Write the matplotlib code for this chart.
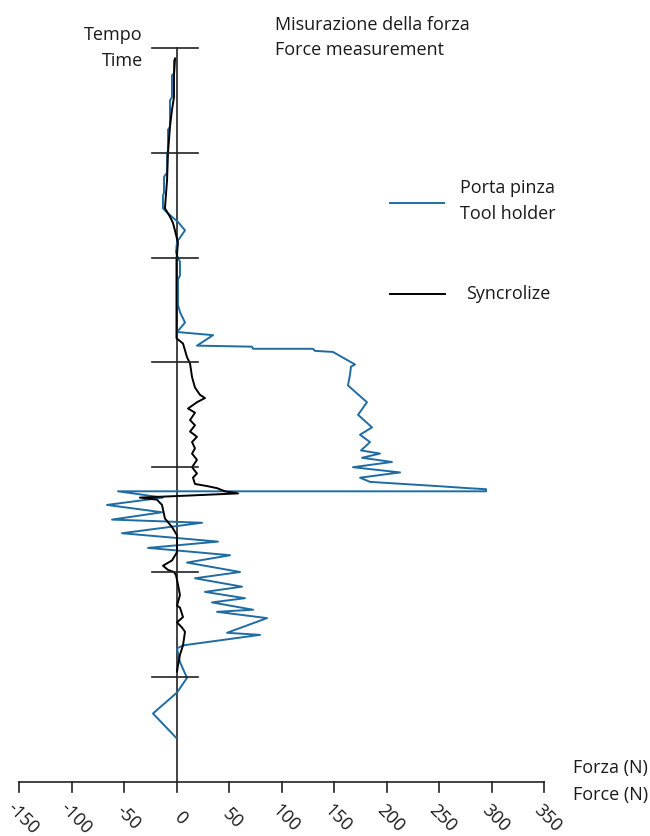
import numpy as np
import matplotlib
matplotlib.use("Agg")
import matplotlib.pyplot as plt

plt.rcParams['font.family'] = ['Open Sans', 'DejaVu Sans']

# force axis ticks (N)
force_ticks = [-150, -100, -50, 0, 50, 100, 150, 200, 250, 300, 350]
# time ticks (arbitrary units, top to bottom)
time_ticks = [0, 1, 2, 3, 4, 5, 6]
time_axis_end = 7

# Porta pinza / Tool holder  (force N, time)
holder_force = [-2.4, -2.4, -4.3, -4.3, -6.2, -6.2, -8.1, -8.1, -9.0, -9.0,
                -11.9, -11.9, -12.9, -12.9, -9.0, 1.4, 8.1, 0.5, -0.5, 1.4,
                3.3, 3.3, 1.4, 1.4, 3.3, 6.2, 8.1, 0.5, 34.8, 19.5,
                71.9, 72.9, 130.0, 131.9, 149.0, 170.0, 166.2, 165.2, 163.3, 181.4,
                172.9, 186.2, 174.8, 184.3, 175.7, 193.8, 176.7, 205.2, 168.1, 212.9,
                174.8, 184.3, 248.1, 277.6, 294.8, 294.8, -55.7, -12.9, -66.2, -13.8,
                -61.4, 24.3, -51.9, 39.5, -27.1, 51.0, 10.0, 60.5, 17.6, 62.4,
                27.1, 65.2, 33.8, 72.9, 38.6, 86.2, 48.1, 79.5, 6.2, 0.5,
                3.3, 10.0, 0.5, -22.4, -0.5]
holder_time = [0.12, 0.24, 0.26, 0.47, 0.50, 0.75, 0.78, 0.97, 1.02, 1.19,
               1.23, 1.38, 1.41, 1.53, 1.57, 1.66, 1.74, 1.85, 1.95, 2.00,
               2.04, 2.17, 2.21, 2.45, 2.52, 2.58, 2.62, 2.71, 2.74, 2.84,
               2.85, 2.87, 2.87, 2.89, 2.90, 3.02, 3.04, 3.12, 3.22, 3.38,
               3.50, 3.62, 3.69, 3.76, 3.84, 3.87, 3.91, 3.95, 4.00, 4.05,
               4.10, 4.14, 4.18, 4.20, 4.21, 4.23, 4.23, 4.29, 4.36, 4.43,
               4.50, 4.53, 4.63, 4.71, 4.77, 4.84, 4.91, 5.00, 5.06, 5.14,
               5.19, 5.25, 5.29, 5.36, 5.38, 5.44, 5.58, 5.60, 5.70, 5.73,
               5.86, 6.01, 6.15, 6.35, 6.58]

# Syncrolize
sync_force = [-1.4, -2.4, -2.4, -4.3, -6.2, -8.1, -9.0, -11.0, -6.2, -3.3,
              -0.5, 1.4, 0.5, 0.0, 0.0, 6.2, 10.0, 12.9, 14.8, 17.6,
              22.4, 27.1, 19.5, 11.0, 17.6, 12.9, 17.6, 12.9, 19.5, 14.8,
              17.6, 14.8, 19.5, 14.8, 19.5, 15.7, 17.6, 29.0, 38.6, 46.2,
              58.6, 12.9, -34.8, -18.6, -13.8, -11.0, -4.3, 0.5, 0.5, -4.3,
              -12.9, -8.1, -2.4, -0.5, 1.4, 3.3, 0.5, 3.3, 6.2, 0.5,
              5.2, 8.1, 6.2, 3.3, 1.4, 0.5]
sync_time = [0.10, 0.26, 0.47, 0.59, 0.75, 1.00, 1.26, 1.53, 1.61, 1.67,
             1.78, 1.86, 1.96, 2.02, 2.77, 2.82, 2.95, 3.01, 3.14, 3.24,
             3.31, 3.34, 3.38, 3.44, 3.48, 3.55, 3.60, 3.66, 3.71, 3.76,
             3.82, 3.87, 3.93, 4.00, 4.06, 4.10, 4.16, 4.18, 4.20, 4.23,
             4.25, 4.27, 4.29, 4.31, 4.36, 4.49, 4.57, 4.65, 4.81, 4.89,
             4.94, 4.98, 5.00, 5.03, 5.12, 5.22, 5.32, 5.34, 5.43, 5.48,
             5.53, 5.57, 5.70, 5.79, 5.89, 5.95]

W, H = 650, 836
X0, XS = 176.5, 1.05     # pixel of 0 N, pixels per N
Y0, YS = 48.0, 104.8     # pixel of time 0, pixels per time unit

fig = plt.figure(figsize=(W / 100, H / 100), dpi=100)
ax = fig.add_axes([0, 0, 1, 1])
ax.set_xlim(-X0 / XS, (W - X0) / XS)
ax.set_ylim((H - Y0) / YS, -Y0 / YS)
ax.axis('off')

def fx(x):
    return x / W

def fy(y):
    return 1 - y / H

axc = '#222222'
blue = '#1f6ca3'
fs = 13
tc = '#1a1a1a'

# data
ax.plot(holder_force, holder_time, color=blue, lw=1.4, zorder=3)
ax.plot(sync_force, sync_time, color='black', lw=1.4, zorder=4)

# time axis with cross bars
ax.plot([0, 0], [time_ticks[0], time_axis_end], color=axc, lw=1.2, zorder=2)
for t in time_ticks:
    ax.plot([-23, 20], [t, t], color=axc, lw=1.2, zorder=5)

# force axis
ax.plot([force_ticks[0], force_ticks[-1]], [time_axis_end, time_axis_end], color=axc, lw=1.2)
for f in force_ticks:
    ax.plot([f, f], [time_axis_end, time_axis_end + 0.1], color=axc, lw=1.2)
    ax.text(f + 4 / XS, time_axis_end + 0.35, str(f), rotation=-45, rotation_mode='anchor',
            ha='center', va='center', fontsize=fs, color=tc)

fig.text(fx(143), fy(35), 'Tempo', ha='right', va='center', fontsize=fs, color=tc)
fig.text(fx(143), fy(61), 'Time', ha='right', va='center', fontsize=fs, color=tc)
fig.text(fx(275), fy(25), 'Misurazione della forza', ha='left', va='center', fontsize=fs, color=tc)
fig.text(fx(275), fy(50), 'Force measurement', ha='left', va='center', fontsize=fs, color=tc)
fig.text(fx(573), fy(768), 'Forza (N)', ha='left', va='center', fontsize=fs, color=tc)
fig.text(fx(573), fy(795), 'Force (N)', ha='left', va='center', fontsize=fs, color=tc)

# legend
fig.add_artist(plt.Line2D([fx(390), fx(444)], [fy(203), fy(203)], color=blue, lw=1.4))
fig.text(fx(460), fy(188), 'Porta pinza', ha='left', va='center', fontsize=fs, color=tc)
fig.text(fx(460), fy(214), 'Tool holder', ha='left', va='center', fontsize=fs, color=tc)
fig.add_artist(plt.Line2D([fx(390), fx(445)], [fy(294), fy(294)], color='black', lw=1.4))
fig.text(fx(466), fy(294), 'Syncrolize', ha='left', va='center', fontsize=fs, color=tc)

fig.savefig('out.png', dpi=100)
